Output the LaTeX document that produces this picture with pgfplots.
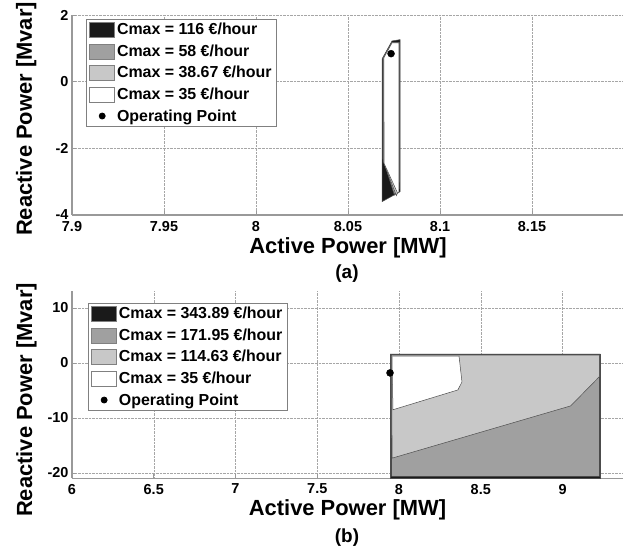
\documentclass[border=0pt]{standalone}
\usepackage{fontspec}
\setmainfont{Liberation Sans}
\usepackage{pgfplots}
\pgfplotsset{compat=1.18}

\definecolor{cA}{HTML}{1A1A1A}
\definecolor{cB}{HTML}{A0A0A0}
\definecolor{cC}{HTML}{C8C8C8}

\pgfplotsset{
  mystyle/.style={
    scale only axis,
    axis x line*=bottom, axis y line*=left,
    axis line style={draw=gray!80, line width=1.3pt, -},
    grid=major,
    major grid style={densely dotted, gray!70, line width=0.5pt},
    tick align=inside,
    major tick length=4bp,
    major tick style={gray!80, line width=0.6pt},
    tick label style={font=\bfseries\fontsize{14.5}{14.5}\selectfont},
    /pgf/number format/assume math mode=true,
    label style={font=\bfseries\fontsize{22}{22}\selectfont},
    xlabel style={at={(axis description cs:0.5,0)}, anchor=base, yshift=-39bp},
    legend cell align=left,
    legend style={draw=gray, line width=0.8pt, fill=white,
      font=\bfseries\fontsize{16}{16}\selectfont, anchor=north west, row sep=4.5bp},
  },
  mypatch/.style={area legend, draw=black!70, line width=0.5pt,
    legend image code/.code={\draw[##1, draw=gray, line width=0.6pt] (0bp,-7.5bp) rectangle (25bp,7.5bp);}},
  mydot/.style={only marks, mark=*, mark size=3.5bp, black,
    legend image code/.code={\fill[black] (12.5bp,0bp) circle (3bp);}},
}

\begin{document}
\begin{tikzpicture}[x=1bp,y=1bp]
\path[use as bounding box] (0,0) rectangle (623,550);

% ---------- (a) ----------
\begin{axis}[mystyle,
  at={(72bp,335bp)}, anchor=south west, width=552bp, height=200bp,
  xmin=7.9, xmax=8.2, ymin=-4, ymax=2,
  xtick={7.9,7.95,8,8.05,8.1,8.15}, ytick={-4,-2,0,2},
  xticklabels={7.9,7.95,8,8.05,8.1,8.15},
  xticklabel style={yshift=-3bp},
  xlabel={Active Power [MW]}, ylabel={Reactive Power [Mvar]},
  ylabel style={at={(axis description cs:-0.0725,0.48)}, anchor=base},
  legend style={at={(axis description cs:0.0254,0.98)}},
]
\addplot[mypatch, fill=cA] coordinates {(8.0685,0.68) (8.0739,1.22) (8.0783,1.26) (8.0783,-3.3) (8.0685,-3.6) (8.0685,0.68)};
\addlegendentry{Cmax = 116 €/hour}
\addplot[mypatch, fill=cB] coordinates {(8.0689,0.70) (8.0739,1.18) (8.0779,1.18) (8.0779,-3.0) (8.0752,-3.4) (8.0689,-2.3) (8.0689,0.70)};
\addlegendentry{Cmax = 58 €/hour}
\addplot[mypatch, fill=cC] coordinates {(8.0692,0.71) (8.0739,1.17) (8.0778,1.17) (8.0778,-3.2) (8.0763,-3.42) (8.0692,-2.4) (8.0692,0.71)};
\addlegendentry{Cmax = 38.67 €/hour}
\addplot[mypatch, fill=white] coordinates {(8.0695,0.72) (8.0739,1.16) (8.0777,1.16) (8.0777,-3.3) (8.0770,-3.35) (8.0696,-2.45) (8.0695,0.72)};
\addlegendentry{Cmax = 35 €/hour}
\addplot[mydot] coordinates {(8.0734,0.84)};
\addlegendentry{Operating Point}
\end{axis}

% ---------- (b) ----------
\begin{axis}[mystyle,
  at={(72bp,71.5bp)}, anchor=south west, width=551bp, height=187bp,
  xmin=6, xmax=9.37, ymin=-21, ymax=13,
  xtick={6,6.5,7,7.5,8,8.5,9}, ytick={-20,-10,0,10},
  xticklabels={6,6.5,7,7.5,8,8.5,9},
  xticklabel style={yshift=-2bp},
  xlabel={Active Power [MW]}, ylabel={Reactive Power [Mvar]},
  xlabel style={yshift=1.5bp},
  ylabel style={at={(axis description cs:-0.0725,0.42)}, anchor=base},
  legend style={at={(axis description cs:0.029,0.9385)}},
]
\addplot[mypatch, fill=cA] coordinates {(7.945,-20.9) (7.945,1.65) (9.232,1.65) (9.232,-20.9) (7.945,-20.9)};
\addlegendentry{Cmax = 343.89 €/hour}
\addplot[mypatch, fill=cB] coordinates {(7.955,-20.6) (7.952,1.45) (9.225,1.45) (9.225,-20.6) (7.955,-20.6)};
\addlegendentry{Cmax = 171.95 €/hour}
\addplot[mypatch, fill=cC] coordinates {(7.954,1.45) (9.225,1.45) (9.225,-2.5) (9.05,-7.8) (7.958,-17.3) (7.954,1.45)};
\addlegendentry{Cmax = 114.63 €/hour}
\addplot[mypatch, fill=white] coordinates {(7.957,1.27) (8.367,1.27) (8.385,-3.45) (8.36,-4.9) (7.963,-8.5) (7.957,1.27)};
\addlegendentry{Cmax = 35 €/hour}
\addplot[mydot] coordinates {(7.945,-1.8)};
\addlegendentry{Operating Point}
\end{axis}

\node[anchor=base, font=\bfseries\fontsize{19}{19}\selectfont] at (347,271) {(a)};
\node[anchor=base, font=\bfseries\fontsize{19}{19}\selectfont] at (347,7) {(b)};
\end{tikzpicture}
\end{document}
